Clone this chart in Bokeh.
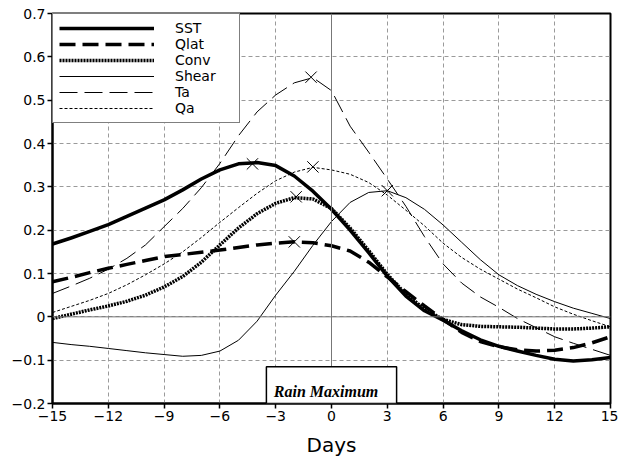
from bokeh.plotting import figure
from bokeh.models import (Range1d, FixedTicker, Span, BoxAnnotation, Label,
                          Legend, LegendItem)
from bokeh.embed import file_html
from bokeh.resources import INLINE

# ---------------- data ----------------
days = list(range(-15, 16))

sst = [0.168, 0.182, 0.197, 0.213, 0.232, 0.251, 0.270, 0.293, 0.318, 0.339,
       0.353, 0.356, 0.349, 0.325, 0.290, 0.248, 0.200, 0.148, 0.094, 0.048,
       0.014, -0.008, -0.032, -0.053, -0.068, -0.079, -0.089, -0.098, -0.102,
       -0.099, -0.094]
qlat = [0.081, 0.091, 0.102, 0.112, 0.121, 0.130, 0.139, 0.144, 0.149, 0.154,
        0.160, 0.166, 0.170, 0.173, 0.171, 0.164, 0.152, 0.126, 0.092, 0.058,
        0.025, -0.006, -0.036, -0.057, -0.069, -0.076, -0.079, -0.077, -0.071,
        -0.060, -0.046]
conv = [-0.004, 0.006, 0.016, 0.025, 0.036, 0.050, 0.069, 0.093, 0.126, 0.166,
        0.205, 0.238, 0.262, 0.275, 0.272, 0.250, 0.205, 0.153, 0.098, 0.052,
        0.018, -0.006, -0.018, -0.022, -0.023, -0.024, -0.026, -0.028, -0.028,
        -0.026, -0.023]
shear = [-0.059, -0.064, -0.068, -0.073, -0.078, -0.083, -0.087, -0.091,
         -0.089, -0.079, -0.054, -0.010, 0.050, 0.105, 0.165, 0.220, 0.264,
         0.287, 0.291, 0.275, 0.248, 0.212, 0.172, 0.132, 0.097, 0.072, 0.052,
         0.035, 0.020, 0.008, -0.004]
ta = [0.054, 0.071, 0.089, 0.110, 0.135, 0.166, 0.208, 0.250, 0.298, 0.354,
      0.418, 0.473, 0.512, 0.540, 0.552, 0.522, 0.440, 0.380, 0.318, 0.255,
      0.185, 0.122, 0.078, 0.046, 0.022, -0.004, -0.025, -0.046, -0.061,
      -0.075, -0.089]
qa = [0.010, 0.024, 0.038, 0.054, 0.074, 0.097, 0.122, 0.150, 0.183, 0.218,
      0.252, 0.285, 0.314, 0.334, 0.345, 0.339, 0.329, 0.310, 0.281, 0.246,
      0.210, 0.170, 0.137, 0.110, 0.087, 0.064, 0.044, 0.023, 0.006, -0.009,
      -0.023]

peak_days = [-4.25, -2.0, -1.9, 3.0, -1.1, -1.0]
peak_vals = [0.353, 0.173, 0.277, 0.291, 0.553, 0.346]

series_names = ["SST", "Qlat", "Conv", "Shear", "Ta", "Qa"]

x_ticks = [-15, -12, -9, -6, -3, 0, 3, 6, 9, 12, 15]
x_tick_labels = ["\u221215", "\u221212", "\u22129", "\u22126", "\u22123", "0",
                 "3", "6", "9", "12", "15"]
y_ticks = [-0.2, -0.1, 0, 0.1, 0.2, 0.3, 0.4, 0.5, 0.6, 0.7]
y_tick_labels = ["\u22120.2", "\u22120.1", "0", "0.1", "0.2", "0.3", "0.4",
                 "0.5", "0.6", "0.7"]

rain_box_days = (-3.5, 3.5)
rain_box_vals = (-0.2, -0.115)
rain_text = "Rain Maximum"
x_label = "Days"

# ---------------- figure ----------------
p = figure(width=618, height=465, output_backend="svg", toolbar_location=None,
           x_range=Range1d(-15, 15), y_range=Range1d(-0.2, 0.7),
           min_border_left=52, min_border_right=8, min_border_top=13,
           min_border_bottom=62)
p.background_fill_color = "white"
p.border_fill_color = "white"
p.outline_line_color = "black"
p.outline_line_width = 2

for ax in (p.xaxis[0], p.yaxis[0]):
    ax.axis_line_color = "black"
    ax.axis_line_width = 2
    ax.major_tick_line_color = "black"
    ax.major_tick_line_width = 1.5
    ax.major_tick_in = 0
    ax.major_tick_out = 5
    ax.minor_tick_line_color = None
    ax.major_label_text_font = "DejaVu Sans"
    ax.major_label_text_font_size = "14px"
    ax.major_label_text_color = "black"
    ax.major_label_standoff = 2

p.xaxis.ticker = FixedTicker(ticks=x_ticks)
p.yaxis.ticker = FixedTicker(ticks=y_ticks)
p.xaxis.major_label_overrides = dict(zip(x_ticks, x_tick_labels))
p.yaxis.major_label_overrides = dict(zip(y_ticks, y_tick_labels))
p.xaxis.axis_label = x_label
p.xaxis.axis_label_text_font = "DejaVu Sans"
p.xaxis.axis_label_text_font_size = "20px"
p.xaxis.axis_label_text_font_style = "normal"
p.xaxis.axis_label_text_color = "black"
p.xaxis.axis_label_standoff = 9

p.xgrid.ticker = FixedTicker(ticks=x_ticks)
p.ygrid.ticker = FixedTicker(ticks=y_ticks)
for g in (p.xgrid[0], p.ygrid[0]):
    g.grid_line_color = "#9a9a9a"
    g.grid_line_dash = "4 3"
    g.grid_line_width = 1

p.add_layout(Span(location=0, dimension="height", line_color="#777777",
                  line_width=1))
p.add_layout(Span(location=0, dimension="width", line_color="#777777",
                  line_width=1))

styles = [
    dict(line_width=3.5, line_dash="solid"),
    dict(line_width=3.5, line_dash="16 7"),
    dict(line_width=3.5, line_dash="2 1"),
    dict(line_width=1, line_dash="solid"),
    dict(line_width=1, line_dash="18 7"),
    dict(line_width=1, line_dash="3 2"),
]
all_series = [sst, qlat, conv, shear, ta, qa]
renderers = []
for vals, st in zip(all_series, styles):
    r = p.line(days, vals, line_color="black", line_join="round", **st)
    renderers.append(r)

p.scatter(peak_days, peak_vals, marker="x", size=16, line_color="black",
          line_width=1)

p.add_layout(BoxAnnotation(left=rain_box_days[0], right=rain_box_days[1],
                           bottom=rain_box_vals[0], top=rain_box_vals[1],
                           fill_color="white", fill_alpha=1.0,
                           line_color="black", line_width=1.5, line_alpha=1.0))
p.add_layout(Label(x=-3.1, y=-0.172, text=rain_text,
                   text_font="Liberation Serif", text_font_style="bold italic",
                   text_font_size="16px", text_color="black",
                   text_baseline="alphabetic"))

legend = Legend(items=[LegendItem(label=n, renderers=[r])
                       for n, r in zip(series_names, renderers)],
                location="top_left", margin=0, padding=6, spacing=-2,
                glyph_width=95, glyph_height=12, label_height=12,
                label_width=58, label_standoff=21,
                label_text_font="DejaVu Sans", label_text_font_size="14px",
                label_text_color="black",
                border_line_color="black", border_line_width=1.5,
                background_fill_color="white", background_fill_alpha=1.0)
p.add_layout(legend)

open("out.html", "w").write(file_html(p, INLINE))
